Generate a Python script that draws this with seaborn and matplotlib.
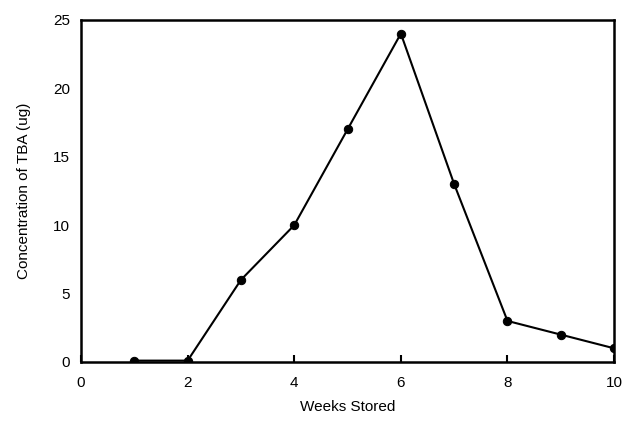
import matplotlib
matplotlib.use("Agg")
import matplotlib.pyplot as plt
import seaborn as sns
import pandas as pd

weeks = [1, 2, 3, 4, 5, 6, 7, 8, 9, 10]
tba_ug = [0.1, 0.1, 6, 10, 17, 24, 13, 3, 2, 1]
x_ticks = [0, 2, 4, 6, 8, 10]
y_ticks = [0, 5, 10, 15, 20, 25]

sns.set_theme(style="white")
plt.rcParams["font.family"] = ["Liberation Sans", "DejaVu Sans"]

df = pd.DataFrame({"Weeks Stored": weeks, "TBA": tba_ug})

fig = plt.figure(figsize=(6.26, 4.33), dpi=100)
ax = fig.add_axes([0.1294, 0.164, 0.8516, 0.790])

sns.lineplot(data=df, x="Weeks Stored", y="TBA", ax=ax, color="black",
             linewidth=1.5, marker="o", markersize=6, markeredgecolor="black",
             markerfacecolor="black")

ax.set_xlim(0, 10)
ax.set_ylim(0, 25)
ax.set_xticks(x_ticks)
ax.set_yticks(y_ticks)
ax.tick_params(direction="in", length=5, width=1.5, colors="black",
               labelsize=11)
ax.tick_params(axis="x", pad=10, top=False, bottom=True)
ax.tick_params(axis="y", pad=8)
for s in ax.spines.values():
    s.set_color("black")
    s.set_linewidth(1.8)

ax.set_xlabel("Weeks Stored", fontsize=11, labelpad=7, color="black")
ax.set_ylabel("Concentration of TBA (ug)", fontsize=11, labelpad=16, color="black")
for lbl in ax.get_xticklabels() + ax.get_yticklabels():
    lbl.set_clip_on(False)

fig.savefig("out.png", dpi=100)
